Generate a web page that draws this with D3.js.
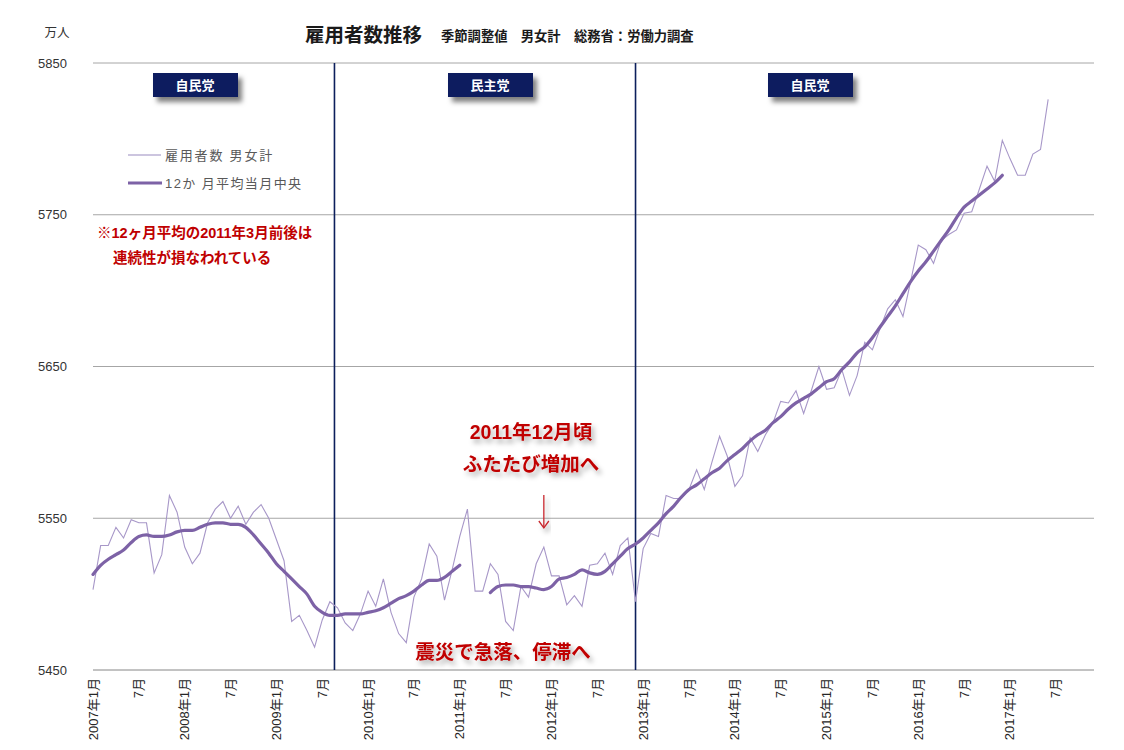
<html>
<head>
<meta charset="utf-8">
<style>
  body { margin: 0; background: #fff; }
  svg text { font-family: "Liberation Sans", "Noto Sans CJK JP", sans-serif; }
</style>
<script src="https://d3js.org/d3.v7.min.js"></script>
</head>
<body>
<svg id="chart"></svg>
<script>

// monthly categories 2007-01 .. 2017-12
var months = d3.range(132).map(function(i) {
  var y = 2007 + Math.floor(i / 12), m = i % 12 + 1;
  return y + "-" + (m < 10 ? "0" + m : m);
});

var tickLabels = ["2007年1月", "7月", "2008年1月", "7月", "2009年1月", "7月",
  "2010年1月", "7月", "2011年1月", "7月", "2012年1月", "7月",
  "2013年1月", "7月", "2014年1月", "7月", "2015年1月", "7月",
  "2016年1月", "7月", "2017年1月", "7月"];

var yTicks = [5450, 5550, 5650, 5750, 5850];

// 雇用者数 男女計 (万人), 2007-01 .. 2017-06
var employees = [
  5503, 5532, 5532, 5544, 5537, 5549, 5547, 5547, 5514, 5526, 5565, 5554,
  5531, 5520, 5527, 5547, 5556, 5561, 5550, 5558, 5546, 5554, 5559, 5550,
  5536, 5522, 5482, 5486, 5476, 5465, 5483, 5495, 5491, 5481, 5476, 5487,
  5502, 5492, 5510, 5488, 5474, 5468, 5498, 5510, 5533, 5525, 5496, 5516,
  5538, 5556, 5502, 5502, 5520, 5513, 5482, 5476, 5505, 5498, 5520, 5531,
  5512, 5512, 5493, 5499, 5492, 5519, 5520, 5527, 5513, 5532, 5537, 5495,
  5530, 5540, 5538, 5565, 5563, 5563, 5569, 5582, 5569, 5587, 5604, 5591,
  5571, 5578, 5603, 5594, 5605, 5613, 5627, 5626, 5634, 5619, 5634, 5650,
  5635, 5636, 5648, 5631, 5644, 5666, 5661, 5675, 5688, 5694, 5683, 5706,
  5730, 5727, 5718, 5733, 5737, 5740, 5751, 5752, 5767, 5782, 5772, 5799,
  5787, 5776, 5776, 5790, 5793, 5826
];

// 12か月平均当月中央 (gap around 2011-03)
var movingAvg = [
  5513, 5519, 5523, 5526, 5529, 5534, 5538, 5539, 5538, 5538, 5539, 5541,
  5542, 5542, 5544, 5546, 5547, 5547, 5546, 5546, 5544, 5539, 5533, 5527,
  5520, 5515, 5510, 5505, 5500, 5492, 5488, 5486, 5486, 5487, 5487, 5487,
  5488, 5489, 5491, 5494, 5497, 5499, 5502, 5506, 5509, 5509, 5511, 5515,
  5519, null, null, null, 5501, 5505, 5506, 5506, 5505, 5505, 5504, 5503,
  5505, 5510, 5511, 5513, 5516, 5514, 5513, 5515, 5520, 5525, 5530, 5533,
  5537, 5542, 5547, 5553, 5558, 5564, 5569, 5572, 5576, 5580, 5583, 5588,
  5592, 5596, 5601, 5605, 5608, 5613, 5617, 5622, 5626, 5629, 5632, 5636,
  5640, 5642, 5648, 5653, 5659, 5663, 5669, 5676, 5683, 5690, 5698, 5706,
  5713, 5719, 5726, 5733, 5740, 5748, 5755, 5759, 5763, 5767, 5771, 5776
];

var parties = ["自民党", "民主党", "自民党"];
// government changes: month of change
var changes = ["2009-09", "2012-12"];

var width = 1124, height = 750;
var plotLeft = 93, plotRight = 1094, plotTop = 63, plotBottom = 670;

var svg = d3.select("#chart").attr("width", width).attr("height", height);

var defs = svg.append("defs");
defs.append("filter").attr("id", "boxShadow")
    .attr("x", "-20%").attr("y", "-30%").attr("width", "150%").attr("height", "180%")
  .append("feDropShadow")
    .attr("dx", 4).attr("dy", 5).attr("stdDeviation", 2.5)
    .attr("flood-color", "#000").attr("flood-opacity", 0.5);
defs.append("filter").attr("id", "textShadow")
    .attr("x", "-10%").attr("y", "-30%").attr("width", "130%").attr("height", "180%")
  .append("feDropShadow")
    .attr("dx", 3).attr("dy", 4).attr("stdDeviation", 2.5)
    .attr("flood-color", "#000").attr("flood-opacity", 0.3);

var x = d3.scalePoint().domain(months).range([plotLeft, plotRight]);
var step = x.step();
var y = d3.scaleLinear().domain([5450, 5850]).range([plotBottom, plotTop]);

// gridlines
svg.append("g").selectAll("line")
    .data(yTicks)
  .enter().append("line")
    .attr("x1", plotLeft).attr("x2", plotRight)
    .attr("y1", function(d) { return y(d); })
    .attr("y2", function(d) { return y(d); })
    .attr("stroke", function(d) { return d === 5450 ? "#868686" : "#a6a6a6"; })
    .attr("stroke-width", 1);

// y labels
svg.append("g").selectAll("text")
    .data(yTicks)
  .enter().append("text")
    .attr("x", 67)
    .attr("y", function(d) { return y(d) + 4.5; })
    .attr("text-anchor", "end")
    .attr("font-size", 13)
    .attr("fill", "#333")
    .text(function(d) { return d; });

svg.append("text")
    .attr("x", 57).attr("y", 37)
    .attr("text-anchor", "middle")
    .attr("font-size", 12.5)
    .attr("fill", "#333")
    .text("万人");

// x labels (every 6 months)
svg.append("g").selectAll("text")
    .data(tickLabels)
  .enter().append("text")
    .attr("transform", function(d, i) {
      return "translate(" + (x(months[i * 6]) + 4.5) + "," + 678 + ") rotate(-90)";
    })
    .attr("text-anchor", "end")
    .attr("font-size", 13)
    .attr("fill", "#262626")
    .text(function(d) { return d; });

// government change lines
svg.append("g").selectAll("line")
    .data(changes)
  .enter().append("line")
    .attr("x1", function(d, i) { return x(d) - (i === 0 ? 0.4 * step : 0); })
    .attr("x2", function(d, i) { return x(d) - (i === 0 ? 0.4 * step : 0); })
    .attr("y1", plotTop).attr("y2", plotBottom)
    .attr("stroke", "#0c1f5c").attr("stroke-width", 1.6);

// series
var rawLine = d3.line()
    .x(function(d, i) { return x(months[i]); })
    .y(function(d) { return y(d); });

svg.append("path")
    .datum(employees)
    .attr("d", rawLine)
    .attr("fill", "none")
    .attr("stroke", "#a797c8")
    .attr("stroke-width", 1.1);

var avgLine = d3.line()
    .defined(function(d) { return d != null; })
    .x(function(d, i) { return x(months[i]); })
    .y(function(d) { return y(d); })
    .curve(d3.curveMonotoneX);

svg.append("path")
    .datum(movingAvg)
    .attr("d", avgLine)
    .attr("fill", "none")
    .attr("stroke", "#7d62a6")
    .attr("stroke-width", 3.2)
    .attr("stroke-linecap", "round");

// party boxes
var boxCenters = [195, 490, 810];
var boxes = svg.append("g").selectAll("g")
    .data(parties)
  .enter().append("g")
    .attr("transform", function(d, i) { return "translate(" + boxCenters[i] + ",85)"; });
boxes.append("rect")
    .attr("x", -42).attr("y", -12)
    .attr("width", 85).attr("height", 24)
    .attr("fill", "#0b1f5e")
    .attr("filter", "url(#boxShadow)");
boxes.append("text")
    .attr("y", 5)
    .attr("text-anchor", "middle")
    .attr("font-size", 13)
    .attr("font-weight", "bold")
    .attr("fill", "#fff")
    .text(function(d) { return d; });

// title
svg.append("text")
    .attr("x", 305).attr("y", 42)
    .attr("font-size", 19.5)
    .attr("font-weight", "bold")
    .attr("fill", "#1a1a1a")
    .text("雇用者数推移");
svg.append("text")
    .attr("x", 441).attr("y", 41)
    .attr("font-size", 13.3)
    .attr("font-weight", "bold")
    .attr("fill", "#1a1a1a")
    .text("季節調整値　男女計　総務省：労働力調査");

// legend
var legend = svg.append("g");
legend.append("line")
    .attr("x1", 128).attr("x2", 161).attr("y1", 155).attr("y2", 155)
    .attr("stroke", "#9a8cc0").attr("stroke-width", 1.2);
legend.append("text")
    .attr("x", 165).attr("y", 160)
    .attr("font-size", 13).attr("letter-spacing", 1.8)
    .attr("fill", "#595959")
    .text("雇用者数  男女計");
legend.append("line")
    .attr("x1", 128).attr("x2", 162).attr("y1", 183).attr("y2", 183)
    .attr("stroke", "#7d62a6").attr("stroke-width", 3.2);
legend.append("text")
    .attr("x", 165).attr("y", 188)
    .attr("font-size", 13).attr("letter-spacing", 1.4)
    .attr("fill", "#595959")
    .text("12か 月平均当月中央");

// notes
var red = "#c00000";
svg.append("text")
    .attr("x", 97).attr("y", 238)
    .attr("font-size", 14.5).attr("font-weight", "bold")
    .attr("fill", red)
    .text("※12ヶ月平均の2011年3月前後は");
svg.append("text")
    .attr("x", 113).attr("y", 263)
    .attr("font-size", 14.5).attr("font-weight", "bold")
    .attr("fill", red)
    .text("連続性が損なわれている");

var notes = svg.append("g").attr("filter", "url(#textShadow)");
notes.append("text")
    .attr("x", 531).attr("y", 439)
    .attr("text-anchor", "middle")
    .attr("font-size", 19.5).attr("font-weight", "bold")
    .attr("fill", red)
    .text("2011年12月頃");
notes.append("text")
    .attr("x", 531).attr("y", 471)
    .attr("text-anchor", "middle")
    .attr("font-size", 19.5).attr("font-weight", "bold")
    .attr("fill", red)
    .text("ふたたび増加へ");
notes.append("text")
    .attr("x", 503).attr("y", 659)
    .attr("text-anchor", "middle")
    .attr("font-size", 19.5).attr("font-weight", "bold")
    .attr("fill", red)
    .text("震災で急落、停滞へ");

// arrow at 2011年12月
var ax = x("2011-12");
var arrow = svg.append("g").attr("filter", "url(#textShadow)")
    .attr("stroke", "#c8282e").attr("stroke-width", 1.3).attr("fill", "none");
arrow.append("line").attr("x1", ax).attr("x2", ax).attr("y1", 495).attr("y2", 528);
arrow.append("path").attr("d", "M" + (ax - 5) + ",521 L" + ax + ",528 L" + (ax + 5) + ",521");

</script>
</body>
</html>
